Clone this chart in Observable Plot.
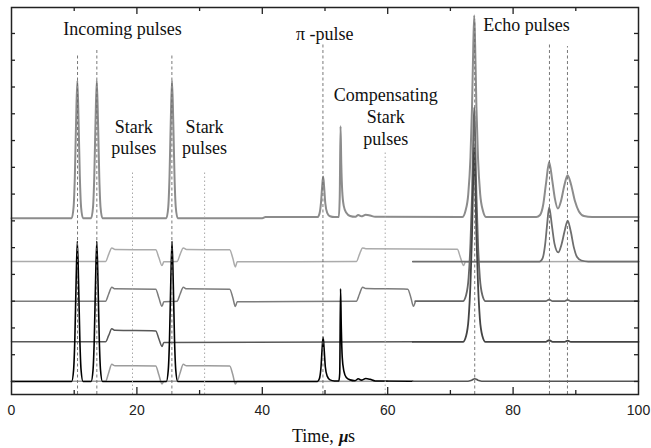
<!DOCTYPE html>
<html>
<head>
<meta charset="utf-8">
<script src="https://cdn.jsdelivr.net/npm/d3@7"></script>
<script src="https://cdn.jsdelivr.net/npm/@observablehq/plot@0.6"></script>
<style>
  html, body { margin: 0; padding: 0; background: white; }
</style>
</head>
<body>
<div id="chart"></div>
<script>
// ---- axes ----
const xDomain = [0, 100];
const yDomain = [-0.486, 13.97];
const xTickLabels = [0, 20, 40, 60, 80, 100];
const xMajorTicks = [20, 40, 60, 80];
const xMinorTicks = [10, 30, 50, 70, 90];
const yTicks = [0, 1, 2, 3, 4, 5, 6, 7, 8, 9, 10, 11, 12, 13];

// ---- traces: [time (µs), signal (arb. units, offset per row)] ----
// Row A: full signal (no Stark pulses)
const rowA = [[0,6.1],[9.6,6.1],[9.9,6.51],[10.1,7.64],[10.3,9.7],[10.5,11.24],[10.7,9.7],[10.9,7.64],[11.1,6.51],[11.4,6.1],
  [12.7,6.1],[13.0,6.51],[13.2,7.64],[13.4,9.7],[13.6,11.24],[13.8,9.7],[14.0,7.64],[14.2,6.51],[14.5,6.1],
  [24.7,6.1],[25.0,6.51],[25.2,7.64],[25.4,9.7],[25.6,11.24],[25.8,9.7],[26.0,7.64],[26.2,6.51],[26.5,6.1],
  [40,6.1],[40.5,6.14],
  [48.8,6.14],[49.1,6.25],[49.35,6.65],[49.55,7.3],[49.7,7.66],[49.85,7.3],[50.05,6.65],[50.35,6.3],[50.8,6.17],[51.5,6.14],
  [52.2,6.14],[52.35,6.9],[52.48,9.53],[52.6,8.1],[52.75,7.1],[53.0,6.55],[53.4,6.3],[54.0,6.18],[54.8,6.15],[55.3,6.22],[55.8,6.17],[56.5,6.23],[57.2,6.2],[58,6.15],
  [71.9,6.14],[72.4,6.37],[72.85,7.0],[73.2,8.37],[73.45,10.26],[73.65,12.53],[73.8,13.67],[73.95,12.53],[74.15,10.26],[74.4,8.37],[74.75,7.0],[75.2,6.37],[75.7,6.14],
  [83.7,6.14],[84.3,6.22],[84.8,6.6],[85.25,7.4],[85.75,8.2],[86.25,7.5],[86.65,6.85],[87.15,6.46],[87.65,6.75],[88.15,7.3],[88.7,7.7],[89.25,7.35],[89.85,6.75],[90.5,6.35],[91.3,6.18],[92.6,6.14],[100,6.14]];

// Row B: Stark pulses 1, 2 and compensating (long)
const rowBStark = [[0,4.48],[15.0,4.48],[15.5,4.75],[16.0,4.99],[16.5,4.93],[23.0,4.92],[23.5,4.63],[24.0,4.33],[24.3,4.47],
  [26.4,4.48],[26.9,4.75],[27.4,4.99],[27.9,4.93],[34.8,4.92],[35.3,4.6],[35.7,4.28],[36.0,4.47],
  [55.0,4.48],[55.5,4.75],[56.0,4.99],[56.5,4.96],[71.1,4.94],[71.6,4.63],[72.1,4.33],[72.4,4.47],[100,4.48]];
const rowBEcho = [[64,4.48],[84.2,4.48],[84.7,4.6],[85.1,5.1],[85.4,5.8],[85.75,6.5],[86.2,5.8],[86.6,5.15],[87.2,4.82],[87.7,5.1],[88.2,5.6],[88.7,6.01],[89.2,5.6],[89.7,5.0],[90.2,4.65],[90.9,4.52],[92,4.48],[100,4.48]];

// Row C: Stark pulses 1, 2 and compensating (short)
const rowCStark = [[0,3.0],[15.0,3.0],[15.5,3.27],[16.0,3.52],[16.5,3.46],[23.0,3.45],[23.5,3.13],[24.0,2.81],[24.3,2.98],
  [26.4,3.0],[26.9,3.27],[27.4,3.52],[27.9,3.46],[34.8,3.45],[35.3,3.13],[35.7,2.8],[36.0,2.98],
  [55.0,3.0],[55.5,3.27],[56.0,3.52],[56.5,3.47],[63.2,3.45],[63.7,3.13],[64.1,2.81],[64.4,2.98]];
const rowCEcho = [[64.4,3.0],[72.0,3.0],[72.5,3.22],[72.9,3.87],[73.2,5.17],[73.45,6.98],[73.65,9.15],[73.8,10.24],[73.95,9.15],[74.15,6.98],[74.4,5.17],[74.7,3.87],[75.1,3.22],[75.6,3.0],
  [85.2,3.0],[85.75,3.06],[86.3,3.0],[88.2,3.0],[88.7,3.05],[89.2,3.0],[100,3.0]];

// Row D: Stark pulse 1 only
const rowDStark = [[0,1.48],[15.0,1.48],[15.5,1.72],[16.0,1.97],[16.5,1.91],[23.0,1.89],[23.5,1.6],[24.0,1.31],[24.3,1.46],[64,1.48]];
const rowDEcho = [[64,1.48],[72.0,1.48],[72.5,1.70],[72.9,2.35],[73.2,3.66],[73.45,5.47],[73.65,7.65],[73.8,8.74],[73.95,7.65],[74.15,5.47],[74.4,3.66],[74.7,2.35],[75.1,1.70],[75.6,1.48],
  [85.2,1.48],[85.75,1.54],[86.3,1.48],[88.2,1.48],[88.7,1.53],[89.2,1.48],[100,1.48]];

// Row E: Stark pulses 1, 2 and the input pulses
const rowEStark = [[0,0.01],[15.0,0.01],[15.5,0.33],[16.0,0.64],[16.5,0.59],[23.0,0.58],[23.5,0.25],[24.0,-0.09],[24.3,0.0],
  [26.4,0.01],[26.9,0.33],[27.4,0.64],[27.9,0.59],[34.8,0.58],[35.3,0.25],[35.7,-0.09],[36.0,0.0],[60,0.01]];
const rowEInput = [[0,0],[9.6,0],[9.9,0.42],[10.1,1.57],[10.3,3.67],[10.5,5.24],[10.7,3.67],[10.9,1.57],[11.1,0.42],[11.4,0],
  [12.7,0],[13.0,0.42],[13.2,1.57],[13.4,3.67],[13.6,5.24],[13.8,3.67],[14.0,1.57],[14.2,0.42],[14.5,0],
  [24.7,0],[25.0,0.42],[25.2,1.57],[25.4,3.67],[25.6,5.24],[25.8,3.67],[26.0,1.57],[26.2,0.42],[26.5,0],
  [48.8,0],[49.1,0.1],[49.35,0.5],[49.55,1.25],[49.7,1.65],[49.85,1.25],[50.05,0.55],[50.35,0.2],[50.8,0.06],[51.5,0.02],
  [52.2,0.02],[52.35,0.3],[52.48,3.46],[52.6,2.0],[52.75,0.9],[53.0,0.4],[53.4,0.15],[54.0,0.06],[54.8,0.03],[55.3,0.1],[55.8,0.05],[56.5,0.11],[57.2,0.08],[58,0.02],[64,0.01]];
const rowEEcho = [[64,0.01],[72.8,0.01],[73.4,0.05],[73.9,0.1],[74.4,0.05],[75,0.01],[100,0.01]];

// ---- reference lines ----
const dashedX = [10.53, 13.61, 25.58, 49.67, 73.88, 85.8, 88.67];
const dashedTop = [12.25, 12.44, 12.25, 12.63, 13.5, 12.63, 12.51];
const dottedX = [19.3, 30.8, 59.6];
const dottedTop = [7.88, 7.88, 8.63];

// ---- annotations ----
const labelTexts = ["Incoming pulses", "Stark\npulses", "Stark\npulses", "π -pulse", "Compensating\nStark\npulses", "Echo pulses"];
const labelX = [17.7, 19.5, 30.8, 49.95, 59.7, 82.15];
const labelY = [12.93, 8.48, 8.48, 12.76, 8.85, 13.11];

const dashedTable = dashedX.map((x, i) => ({x, top: dashedTop[i]}));
const dottedTable = dottedX.map((x, i) => ({x, top: dottedTop[i]}));
const labelTable = labelTexts.map((t, i) => ({t, x: labelX[i], y: labelY[i]}));

const serif = "'Liberation Serif', 'Times New Roman', serif";
const px = d => d[0], py = d => d[1];
const trace = (data, stroke, w) => Plot.line(data, {x: px, y: py, stroke, strokeWidth: w, curve: "monotone-x", strokeLinejoin: "round"});

const chart = Plot.plot({
  width: 651,
  height: 448,
  marginLeft: 11,
  marginRight: 13,
  marginTop: 7,
  marginBottom: 54,
  style: {background: "white", fontFamily: "'Liberation Sans', Arial, sans-serif", fontSize: "14px", color: "#222"},
  x: {domain: xDomain, ticks: xTickLabels, tickSize: 0, tickPadding: 11, label: null},
  y: {domain: yDomain, axis: null},
  marks: [
    trace(rowA, "#8c8c8c", 2),
    trace(rowBStark, "#ababab", 1.5),
    trace(rowBEcho, "#6e6e6e", 1.8),
    trace(rowCStark, "#7c7c7c", 1.5),
    trace(rowCEcho, "#666666", 1.8),
    trace(rowDStark, "#585858", 1.5),
    trace(rowDEcho, "#444444", 1.8),
    trace(rowEStark, "#9c9c9c", 1.5),
    trace(rowEInput, "#000000", 1.6),
    trace(rowEEcho, "#555555", 1.6),
    Plot.ruleX(dashedTable, {x: "x", y1: yDomain[0], y2: "top", stroke: "#6a6a6a", strokeWidth: 0.9, strokeDasharray: "3,2.5"}),
    Plot.ruleX(dottedTable, {x: "x", y1: yDomain[0], y2: "top", stroke: "#a8a8a8", strokeWidth: 1, strokeDasharray: "1.5,2.5"}),
    // ticks pointing inward
    Plot.tickX(xMajorTicks, {x: d => d, insetTop: 380, stroke: "#222", strokeWidth: 1.3}),
    Plot.tickX(xMajorTicks, {x: d => d, insetBottom: 380, stroke: "#222", strokeWidth: 1.3}),
    Plot.tickX(xMinorTicks, {x: d => d, insetTop: 383, stroke: "#222", strokeWidth: 1.3}),
    Plot.tickX(xMinorTicks, {x: d => d, insetBottom: 383, stroke: "#222", strokeWidth: 1.3}),
    Plot.tickY(yTicks, {y: d => d, insetRight: 623, stroke: "#222", strokeWidth: 1.3}),
    Plot.tickY(yTicks, {y: d => d, insetLeft: 623, stroke: "#222", strokeWidth: 1.3}),
    Plot.frame({stroke: "#222", strokeWidth: 1.5}),
    Plot.text(labelTable, {x: "x", y: "y", text: "t", fontFamily: serif, fontSize: 18, lineAnchor: "bottom", lineHeight: 1.2, fill: "#111"}),
    Plot.text(["Time,"], {frameAnchor: "bottom", text: d => d, dx: -33, dy: 47, textAnchor: "start", lineAnchor: "bottom", fontFamily: serif, fontSize: 18, fill: "#111"}),
    Plot.text(["μ"], {frameAnchor: "bottom", text: d => d, dx: 14, dy: 47, textAnchor: "start", lineAnchor: "bottom", fontFamily: serif, fontSize: 17, fontWeight: "bold", fontStyle: "italic", fill: "#111"}),
    Plot.text(["s"], {frameAnchor: "bottom", text: d => d, dx: 23, dy: 47, textAnchor: "start", lineAnchor: "bottom", fontFamily: serif, fontSize: 18, fill: "#111"})
  ]
});
document.getElementById("chart").appendChild(chart);
</script>
</body>
</html>
